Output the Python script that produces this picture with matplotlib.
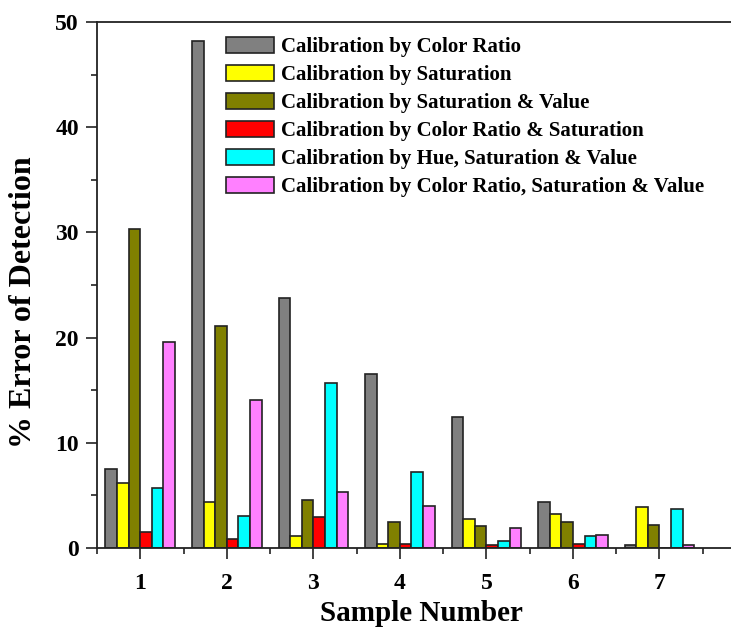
import matplotlib
matplotlib.use("Agg")
import matplotlib.pyplot as plt
import numpy as np
from matplotlib.ticker import MultipleLocator

samples = [1, 2, 3, 4, 5, 6, 7]
series_names = [
    "Calibration by Color Ratio",
    "Calibration by Saturation",
    "Calibration by Saturation & Value",
    "Calibration by Color Ratio & Saturation",
    "Calibration by Hue, Saturation & Value",
    "Calibration by Color Ratio, Saturation & Value",
]
color_ratio = [7.5, 48.2, 23.8, 16.5, 12.5, 4.4, 0.3]
saturation = [6.2, 4.4, 1.1, 0.4, 2.8, 3.2, 3.9]
saturation_value = [30.3, 21.1, 4.6, 2.5, 2.1, 2.5, 2.2]
color_ratio_saturation = [1.5, 0.9, 2.9, 0.4, 0.3, 0.4, 0.0]
hue_saturation_value = [5.7, 3.0, 15.7, 7.2, 0.7, 1.1, 3.7]
color_ratio_sat_value = [19.6, 14.1, 5.3, 4.0, 1.9, 1.2, 0.3]

series = [color_ratio, saturation, saturation_value,
          color_ratio_saturation, hue_saturation_value, color_ratio_sat_value]
colors = ["#808080", "#FFFF00", "#808000", "#FF0000", "#00FFFF", "#FF80FF"]

plt.rcParams["font.family"] = ["Liberation Serif", "DejaVu Serif"]
plt.rcParams["font.weight"] = "bold"

fig = plt.figure(figsize=(7.31, 6.28), dpi=100)
ax = fig.add_axes([97 / 731, 80 / 628, 649 / 731, 526 / 628])

x = np.array(samples, dtype=float)
width = 0.134
for i, (vals, name, col) in enumerate(zip(series, series_names, colors)):
    ax.bar(x + (i - 2.5) * width, vals, width, color=col, edgecolor="#222222",
           linewidth=1.2, label=name)

ax.set_xlim(0.5, 8.0)
ax.set_ylim(0, 50)
ax.set_xticks(samples)
ax.xaxis.set_minor_locator(MultipleLocator(0.5))
ax.yaxis.set_major_locator(MultipleLocator(10))
ax.yaxis.set_minor_locator(MultipleLocator(5))
ax.tick_params(axis="both", which="major", direction="out", length=8, width=1.2,
               labelsize=17, colors="#222222", labelcolor="black")
ax.tick_params(axis="both", which="minor", direction="out", length=4, width=1.2,
               colors="#222222")
ax.tick_params(axis="x", which="major", pad=10)
ax.tick_params(axis="y", which="major", pad=5)
for lbl in ax.get_xticklabels() + ax.get_yticklabels():
    lbl.set_fontweight("bold")

for side in ["left", "bottom", "top", "right"]:
    ax.spines[side].set_linewidth(1.3)
    ax.spines[side].set_color("#222222")

ax.set_xlabel("Sample Number", fontsize=21, fontweight="bold", labelpad=4)
ax.set_ylabel("% Error of Detection", fontsize=23, fontweight="bold")
ax.yaxis.set_label_coords(-0.091, 0.468)

leg = ax.legend(loc="upper left", bbox_to_anchor=(0.179, 0.996), frameon=False,
                prop={"family": ["Liberation Serif"], "weight": "bold", "size": 15},
                handlelength=2.3, handleheight=0.85, labelspacing=0.36,
                handletextpad=0.35, borderaxespad=0.2)

fig.savefig("out.png", dpi=100)
